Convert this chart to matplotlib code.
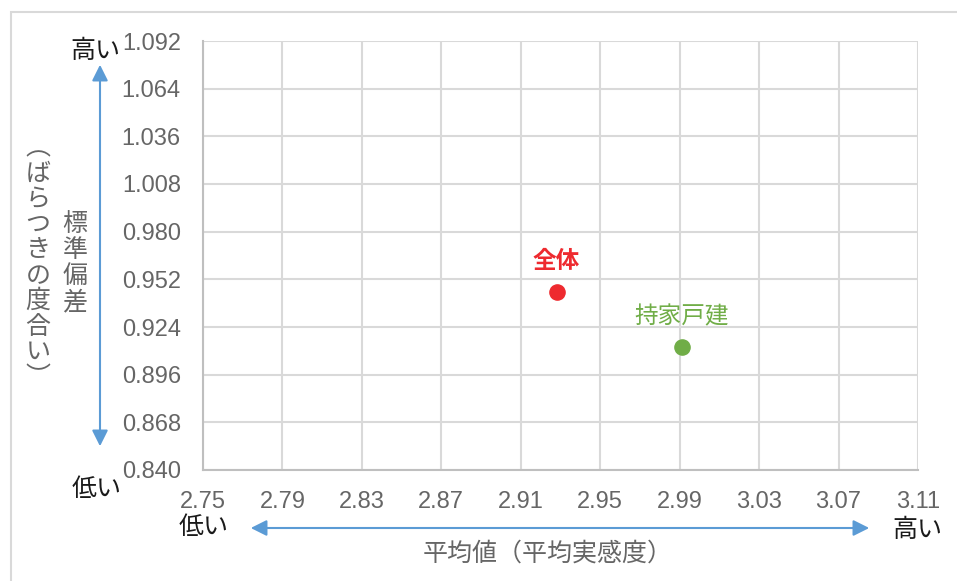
import matplotlib
matplotlib.use('Agg')
import matplotlib.pyplot as plt
from matplotlib.patches import Rectangle, FancyArrowPatch

plt.rcParams['font.family'] = ['Liberation Sans', 'Noto Sans CJK JP', 'DejaVu Sans']
JP = ['Noto Sans CJK JP', 'DejaVu Sans']

# データ
names = ['全体', '持家戸建']
avg = [2.928, 2.991]
std = [0.9445, 0.912]
colors = ['#EE2A2F', '#70AD47']
xticks = [2.75, 2.79, 2.83, 2.87, 2.91, 2.95, 2.99, 3.03, 3.07, 3.11]
yticks = [0.840, 0.868, 0.896, 0.924, 0.952, 0.980, 1.008, 1.036, 1.064, 1.092]

fig = plt.figure(figsize=(9.57, 5.81), dpi=100)
W, H = 957, 581

def fx(px):
    return px / W

def fy(py):
    return 1 - py / H

# 外枠
fig.patches.append(Rectangle((fx(11), -0.1), 1, fy(12) + 0.1, transform=fig.transFigure,
                             fill=False, edgecolor='#D9D9D9', linewidth=1.5))

ax = fig.add_axes([fx(203), fy(470), fx(918) - fx(203), fy(41) - fy(470)])
ax.set_xlim(xticks[0], xticks[-1])
ax.set_ylim(yticks[0], yticks[-1])
ax.set_xticks(xticks)
ax.set_yticks(yticks)
ax.set_xticklabels([f'{v:.2f}' for v in xticks])
ax.set_yticklabels([f'{v:.3f}' for v in yticks])
ax.tick_params(length=0, labelsize=17, labelcolor='#666666')
ax.tick_params(axis='x', pad=15)
ax.tick_params(axis='y', pad=16)
ax.grid(True, color='#D9D9D9', linewidth=1.5)
ax.set_axisbelow(True)
for s in ['top', 'right']:
    ax.spines[s].set_visible(False)
for s in ['left', 'bottom']:
    ax.spines[s].set_color('#BFBFBF')
    ax.spines[s].set_linewidth(1.5)

for n, x, y, c in zip(names, avg, std, colors):
    ax.scatter(x, y, s=120, color=c, zorder=3)
    ax.annotate(n, (x, y), xytext=(0, 14), textcoords='offset points', ha='center',
                va='bottom', color=c, fontsize=17, family=JP,
                fontweight='bold' if n == '全体' else 'normal')

# 矢印
arrow_kw = dict(arrowstyle='<|-|>', mutation_scale=24, color='#5B9BD5', linewidth=1.5,
                transform=fig.transFigure)
fig.patches.append(FancyArrowPatch((fx(100), fy(449)), (fx(100), fy(62)), **arrow_kw))
fig.patches.append(FancyArrowPatch((fx(248), fy(528)), (fx(872), fy(528)), **arrow_kw))

txt_kw = dict(ha='center', va='center', fontsize=18, family=JP, color='#1A1A1A')
fig.text(fx(95), fy(51), '高い', **txt_kw)
fig.text(fx(97), fy(489), '低い', **txt_kw)
fig.text(fx(204), fy(527), '低い', **txt_kw)
fig.text(fx(917), fy(530), '高い', **txt_kw)

fig.text(fx(548), fy(554), '平均値（平均実感度）', ha='center', va='center', fontsize=18,
         family=JP, color='#666666')

# 縦書きラベル
col1 = '標準偏差'
col2 = '︵ばらつきの度合い︶'
fig.text(fx(75), fy(263), '\n'.join(col1), ha='center', va='center', fontsize=18,
         family=JP, color='#666666', linespacing=1.0)
fig.text(fx(38), fy(263), '\n'.join(col2), ha='center', va='center', fontsize=18,
         family=JP, color='#666666', linespacing=0.97)

fig.savefig('out.png', dpi=100)
